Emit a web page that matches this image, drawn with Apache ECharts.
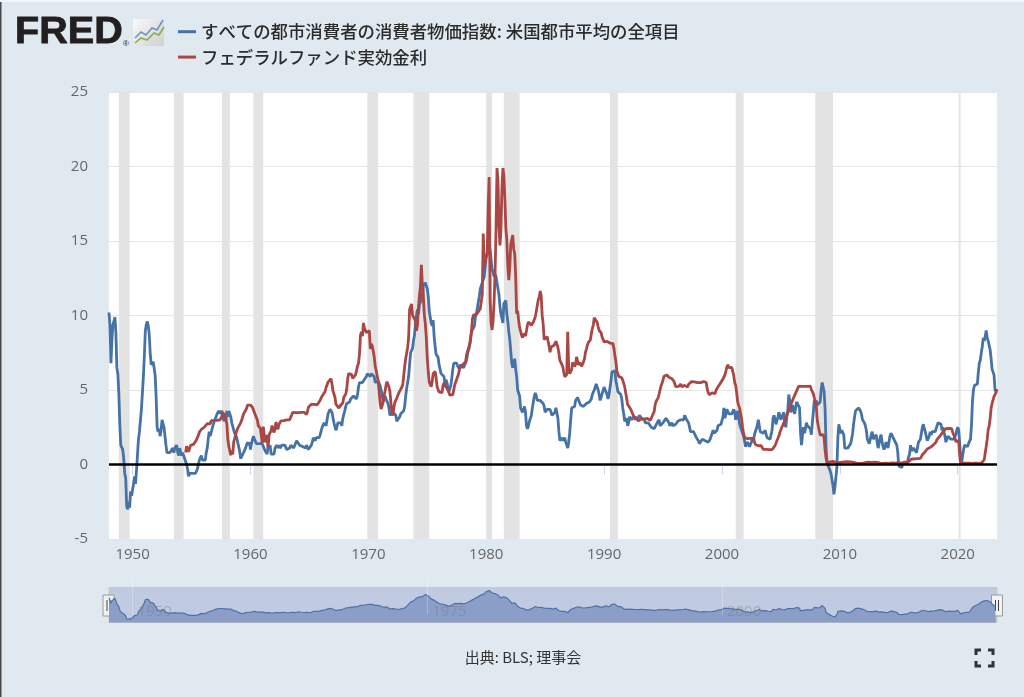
<!DOCTYPE html>
<html>
<head>
    <meta charset="utf-8">
    <title>FRED CPI / FF</title>
    <script src="https://cdn.jsdelivr.net/npm/echarts@6/dist/echarts.min.js"></script>
    <style>
        html,body{
            height: 100%;
            margin: 0;
            padding: 0;
            background: #e1e9f0;
        }
    </style>
</head>
<body>
    <div id="main" style="width: 1024px;height:697px;"></div>
    <script type="text/javascript">
    // 凡例
    var cpiName = 'すべての都市消費者の消費者物価指数: 米国都市平均の全項目';
    var ffName = 'フェデラルファンド実効金利';

    // CPI 前年比 (%), 1948年1月から月次
    var cpiStart = 1948;
    var cpiValues = [
        10.2, 9.3, 6.8, 8.4, 9.4, 9.6, 9.9, 8.9, 6.5, 6.1, 4.8, 2.7,
        1.3, 1.3, 1.0, 0.4, -0.6, -0.9, -2.8, -3.0, -2.5, -2.9, -1.8, -2.1,
        -2.1, -1.3, -0.8, -1.3, -0.4, -0.4, 1.7, 2.2, 2.2, 3.7, 3.8, 5.9,
        7.3, 9.0, 9.4, 9.6, 9.3, 8.7, 7.4, 6.7, 6.7, 6.9, 6.9, 6.0,
        4.5, 2.5, 2.2, 2.4, 1.9, 2.3, 3.0, 3.1, 2.5, 1.9, 1.3, 0.8,
        0.8, 0.8, 0.8, 0.8, 0.8, 1.1, 0.8, 1.1, 1.1, 1.3, 0.8, 0.6,
        1.1, 0.8, 0.6, 0.8, 0.8, 0.4, 0.4, 0.0, -0.3, -0.8, -0.6, -0.6,
        -0.6, -0.6, -0.6, -0.6, -0.6, -0.6, -0.3, -0.3, 0.3, 0.3, 0.6, 0.3,
        0.3, 0.3, 0.3, 0.8, 1.1, 1.7, 2.2, 1.9, 1.9, 2.4, 2.4, 2.9,
        2.9, 3.2, 3.4, 3.5, 3.6, 3.4, 3.3, 3.6, 3.2, 2.9, 3.4, 2.9,
        3.6, 3.2, 3.6, 3.6, 3.2, 2.8, 2.8, 2.3, 2.1, 2.1, 1.8, 1.8,
        1.2, 0.9, 0.4, 0.4, 0.4, 0.8, 0.8, 1.1, 1.1, 1.5, 1.3, 1.5,
        1.0, 1.4, 1.5, 1.9, 1.9, 1.8, 1.4, 1.4, 1.4, 1.4, 1.4, 1.4,
        1.4, 1.4, 1.4, 0.9, 0.9, 0.7, 1.3, 1.1, 1.3, 0.7, 0.7, 0.7,
        0.7, 1.1, 1.1, 1.3, 1.1, 1.3, 1.1, 1.1, 1.3, 1.3, 1.3, 1.3,
        1.3, 1.0, 1.0, 0.9, 1.1, 1.3, 1.3, 1.3, 1.1, 1.1, 1.1, 1.6,
        1.6, 1.6, 1.3, 1.3, 1.3, 1.2, 1.2, 1.1, 1.1, 1.3, 1.3, 1.0,
        1.0, 1.0, 1.3, 1.5, 1.8, 1.9, 1.6, 1.8, 1.8, 1.8, 1.8, 2.0,
        2.0, 2.5, 2.5, 2.8, 2.8, 2.6, 3.0, 3.4, 3.5, 3.7, 3.7, 3.5,
        3.5, 2.8, 2.8, 2.3, 2.5, 2.8, 2.8, 2.8, 2.8, 2.6, 3.1, 3.1,
        3.6, 3.9, 4.1, 4.0, 4.1, 4.2, 4.4, 4.4, 4.4, 4.6, 4.6, 4.7,
        4.4, 4.7, 5.2, 5.5, 5.5, 5.5, 5.5, 5.6, 5.7, 5.7, 5.9, 6.1,
        6.2, 6.1, 5.9, 6.1, 6.1, 6.0, 5.9, 5.5, 5.6, 5.6, 5.6, 5.6,
        5.3, 5.0, 4.7, 4.2, 4.4, 4.6, 4.4, 4.5, 4.1, 3.8, 3.3, 3.3,
        3.3, 3.5, 3.4, 3.4, 3.3, 2.9, 2.9, 3.0, 3.2, 3.4, 3.5, 3.4,
        3.6, 3.9, 4.6, 5.1, 5.5, 5.9, 5.8, 7.5, 7.4, 7.8, 8.3, 8.7,
        9.4, 10.0, 10.4, 10.1, 10.7, 10.9, 11.5, 10.9, 12.0, 12.1, 12.2, 12.3,
        11.8, 11.3, 10.3, 10.2, 9.5, 9.3, 9.7, 8.6, 7.9, 7.4, 7.4, 7.2,
        6.7, 6.4, 6.1, 6.0, 6.2, 5.9, 5.4, 5.7, 5.5, 5.4, 4.9, 4.9,
        5.3, 5.8, 6.4, 6.8, 6.7, 6.9, 6.8, 6.6, 6.6, 6.4, 6.7, 6.7,
        6.6, 6.5, 6.6, 6.5, 7.0, 7.4, 7.7, 7.9, 8.3, 8.9, 8.9, 9.0,
        9.3, 9.9, 10.1, 10.5, 10.9, 11.3, 11.8, 12.0, 12.2, 12.1, 12.6, 13.3,
        13.9, 14.2, 14.8, 14.7, 14.4, 14.4, 13.1, 12.9, 12.6, 12.8, 12.6, 12.5,
        11.8, 11.4, 10.6, 10.1, 9.8, 9.5, 10.8, 10.8, 11.0, 10.1, 9.6, 8.9,
        8.4, 7.6, 6.8, 6.5, 6.7, 7.1, 6.4, 5.9, 5.0, 5.1, 4.6, 3.8,
        3.7, 3.5, 3.6, 3.9, 3.5, 2.6, 2.4, 2.6, 2.9, 2.9, 3.3, 3.8,
        4.2, 4.6, 4.8, 4.6, 4.3, 4.2, 4.2, 4.3, 4.3, 4.3, 4.1, 3.9,
        3.5, 3.5, 3.7, 3.7, 3.7, 3.7, 3.6, 3.3, 3.2, 3.2, 3.5, 3.8,
        3.9, 3.1, 2.2, 1.6, 1.6, 1.8, 1.6, 1.6, 1.8, 1.5, 1.3, 1.1,
        1.5, 2.1, 3.0, 3.8, 3.9, 3.7, 3.9, 4.3, 4.4, 4.5, 4.5, 4.4,
        4.0, 3.9, 3.9, 3.9, 3.9, 4.0, 4.1, 4.0, 4.2, 4.2, 4.2, 4.4,
        4.7, 4.8, 5.0, 5.1, 5.4, 5.2, 5.0, 4.7, 4.3, 4.5, 4.6, 4.6,
        5.2, 5.3, 5.2, 4.7, 4.4, 4.7, 4.8, 5.6, 6.2, 6.3, 6.3, 6.3,
        5.6, 5.3, 4.9, 4.9, 4.9, 4.7, 4.4, 3.8, 3.4, 2.9, 3.0, 3.1,
        2.6, 2.8, 3.2, 3.2, 3.0, 3.1, 3.2, 3.1, 3.0, 3.2, 3.0, 2.9,
        3.3, 3.2, 3.1, 3.2, 3.2, 3.0, 2.8, 2.8, 2.7, 2.8, 2.7, 2.7,
        2.5, 2.5, 2.5, 2.4, 2.3, 2.5, 2.8, 2.9, 3.0, 2.6, 2.7, 2.7,
        2.8, 2.9, 2.9, 3.1, 3.2, 3.0, 2.8, 2.6, 2.5, 2.8, 2.6, 2.5,
        2.7, 2.7, 2.8, 2.9, 2.9, 2.8, 3.0, 2.9, 3.0, 3.0, 3.3, 3.3,
        3.0, 3.0, 2.8, 2.5, 2.2, 2.3, 2.2, 2.2, 2.2, 2.1, 1.8, 1.7,
        1.6, 1.4, 1.4, 1.4, 1.7, 1.7, 1.7, 1.6, 1.5, 1.5, 1.5, 1.6,
        1.7, 1.6, 1.7, 2.3, 2.1, 2.0, 2.1, 2.3, 2.6, 2.6, 2.6, 2.7,
        2.8, 3.2, 3.8, 3.1, 3.2, 3.7, 3.7, 3.4, 3.5, 3.4, 3.4, 3.4,
        3.7, 3.5, 3.0, 3.3, 3.6, 3.2, 2.7, 2.7, 2.6, 2.1, 1.9, 1.6,
        1.2, 1.1, 1.5, 1.6, 1.2, 1.1, 1.5, 1.8, 1.5, 2.0, 2.2, 2.4,
        2.6, 3.0, 3.0, 2.2, 2.1, 2.1, 2.1, 2.2, 2.3, 2.0, 1.8, 1.9,
        1.9, 1.7, 1.7, 2.3, 3.1, 3.3, 3.0, 2.7, 2.6, 3.2, 3.5, 3.3,
        3.0, 3.0, 3.1, 3.5, 2.8, 2.5, 3.2, 3.6, 4.7, 4.3, 3.5, 3.4,
        4.0, 3.6, 3.4, 3.5, 4.2, 4.3, 4.1, 3.8, 2.1, 1.3, 2.0, 2.5,
        2.1, 2.4, 2.8, 2.6, 2.7, 2.7, 2.4, 2.0, 2.8, 3.5, 4.3, 4.1,
        4.3, 4.0, 4.0, 3.9, 4.2, 5.0, 5.5, 5.4, 4.9, 3.7, 1.1, 0.1,
        0.0, 0.0, -0.4, -0.6, -1.0, -1.4, -2.0, -1.5, -1.4, -0.2, 1.8, 2.7,
        2.6, 2.1, 2.3, 2.2, 2.0, 1.1, 1.2, 1.1, 1.1, 1.2, 1.1, 1.4,
        1.7, 2.1, 2.7, 3.2, 3.6, 3.6, 3.6, 3.8, 3.9, 3.6, 3.4, 3.0,
        2.9, 2.8, 2.6, 2.3, 1.7, 1.7, 1.4, 1.7, 2.0, 2.2, 1.7, 1.7,
        1.6, 2.0, 1.5, 1.1, 1.4, 1.8, 2.0, 1.5, 1.2, 1.0, 1.2, 1.5,
        1.6, 1.1, 1.5, 1.9, 2.1, 2.1, 2.0, 1.7, 1.7, 1.7, 1.3, 0.8,
        -0.1, 0.0, -0.1, -0.2, 0.0, 0.1, 0.2, 0.2, 0.0, 0.2, 0.5, 0.7,
        1.3, 0.9, 0.9, 1.1, 1.0, 1.0, 0.8, 1.1, 1.5, 1.6, 1.7, 2.1,
        2.5, 2.7, 2.4, 2.2, 1.9, 1.6, 1.7, 1.9, 2.2, 2.0, 2.2, 2.1,
        2.1, 2.2, 2.4, 2.5, 2.8, 2.9, 2.9, 2.7, 2.3, 2.5, 2.2, 1.9,
        1.5, 1.5, 1.9, 2.0, 1.8, 1.7, 1.8, 1.7, 1.7, 1.8, 2.0, 2.3,
        2.5, 2.3, 1.5, 0.3, 0.1, 0.6, 1.0, 1.3, 1.4, 1.2, 1.2, 1.4,
        1.4, 1.7, 2.6, 4.2, 5.0, 5.3, 5.3, 5.2, 5.4, 6.2, 6.8, 7.0,
        7.5, 7.9, 8.5, 8.3, 8.6, 9.0, 8.5, 8.3, 8.2, 7.7, 7.1, 6.4,
        6.3, 6.0, 5.0, 4.9
    ];

    // FF 実効金利 (%), 1954年7月から月次
    var ffStart = 1954 + 6 / 12;
    var ffValues = [
        0.80, 1.22, 1.07, 0.85, 0.83, 1.28,
        1.39, 1.29, 1.35, 1.43, 1.43, 1.64, 1.68, 1.96, 2.18, 2.24, 2.35, 2.48,
        2.45, 2.50, 2.50, 2.62, 2.75, 2.71, 2.75, 2.73, 2.95, 2.96, 2.88, 2.94,
        2.84, 3.00, 2.96, 3.00, 3.00, 3.00, 2.99, 3.24, 3.47, 3.50, 3.28, 2.98,
        2.72, 1.67, 1.20, 1.26, 0.63, 0.93, 0.68, 1.53, 1.76, 1.80, 2.27, 2.42,
        2.48, 2.43, 2.80, 2.96, 2.90, 3.39, 3.47, 3.50, 3.76, 3.98, 4.00, 3.99,
        3.99, 3.97, 3.84, 3.92, 3.85, 3.32, 3.23, 2.98, 2.60, 2.47, 2.44, 1.98,
        1.45, 2.54, 2.02, 1.49, 1.98, 1.73, 1.17, 2.00, 1.88, 2.26, 2.61, 2.33,
        2.15, 2.37, 2.85, 2.78, 2.36, 2.68, 2.71, 2.93, 2.90, 2.90, 2.94, 2.93,
        2.92, 3.00, 2.98, 2.90, 3.00, 2.99, 3.02, 3.49, 3.48, 3.50, 3.48, 3.38,
        3.48, 3.48, 3.43, 3.47, 3.50, 3.50, 3.42, 3.50, 3.45, 3.36, 3.52, 3.85,
        3.90, 3.98, 4.04, 4.09, 4.10, 4.04, 4.09, 4.12, 4.01, 4.08, 4.10, 4.32,
        4.42, 4.60, 4.65, 4.67, 4.90, 5.17, 5.30, 5.53, 5.40, 5.53, 5.76, 5.40,
        4.94, 5.00, 4.53, 4.05, 3.94, 3.98, 3.79, 3.90, 3.99, 3.88, 4.13, 4.51,
        4.61, 4.71, 5.05, 5.76, 6.11, 6.07, 6.02, 6.03, 5.78, 5.91, 5.82, 6.02,
        6.30, 6.61, 6.79, 7.41, 8.67, 8.90, 8.61, 9.50, 9.15, 9.00, 8.85, 8.97,
        8.98, 8.98, 7.76, 8.10, 7.95, 7.61, 7.21, 6.61, 6.29, 6.20, 5.60, 4.90,
        4.14, 3.72, 3.71, 4.16, 4.63, 4.91, 5.31, 5.56, 5.55, 5.20, 4.91, 4.14,
        3.50, 3.29, 3.83, 4.17, 4.27, 4.46, 4.55, 4.80, 4.87, 5.04, 5.06, 5.33,
        5.94, 6.58, 7.09, 7.12, 7.84, 8.49, 10.40, 10.50, 10.78, 10.01, 10.03, 9.95,
        9.65, 8.97, 9.35, 10.51, 11.31, 11.93, 13.40, 12.01, 11.34, 10.06, 9.45, 8.53,
        7.13, 6.24, 5.54, 5.49, 5.22, 5.55, 6.10, 6.14, 6.24, 5.82, 5.22, 5.20,
        4.87, 4.77, 4.84, 4.82, 5.29, 5.48, 5.31, 5.29, 5.25, 5.02, 4.95, 4.65,
        4.61, 4.68, 4.69, 4.73, 5.35, 5.39, 5.42, 5.90, 6.14, 6.47, 6.51, 6.56,
        6.70, 6.78, 6.79, 6.89, 7.36, 7.60, 7.81, 8.04, 8.45, 8.96, 9.76, 10.03,
        10.07, 10.06, 10.09, 10.01, 10.24, 10.29, 10.47, 10.94, 11.43, 15.50, 13.18, 13.78,
        13.82, 14.13, 17.19, 19.30, 10.98, 9.47, 9.03, 9.61, 10.87, 12.81, 15.85, 19.90,
        19.08, 15.93, 14.70, 15.72, 18.52, 19.90, 19.40, 17.82, 15.87, 15.08, 13.31, 12.37,
        13.22, 14.78, 14.68, 15.40, 14.45, 14.15, 12.59, 10.12, 10.31, 9.71, 9.20, 8.95,
        8.68, 8.51, 8.77, 8.80, 8.63, 8.98, 9.37, 9.56, 9.45, 9.48, 9.34, 9.47,
        9.56, 9.59, 9.91, 10.29, 10.32, 11.06, 11.23, 11.64, 11.30, 9.99, 9.43, 8.38,
        8.35, 8.50, 8.58, 8.27, 7.97, 7.53, 7.88, 7.90, 7.92, 7.99, 8.05, 8.27,
        8.14, 7.86, 7.48, 6.99, 6.85, 6.92, 6.56, 6.17, 5.89, 5.85, 6.04, 8.90,
        6.43, 6.10, 6.13, 6.37, 6.85, 6.73, 6.58, 6.73, 7.22, 7.29, 6.69, 6.77,
        6.83, 6.58, 6.58, 6.87, 7.09, 7.51, 7.75, 8.01, 8.19, 8.30, 8.35, 8.76,
        9.12, 9.36, 9.85, 9.84, 9.81, 9.53, 9.24, 8.99, 9.02, 8.84, 8.55, 8.45,
        8.23, 8.24, 8.28, 8.26, 8.18, 8.29, 8.15, 8.13, 8.20, 8.11, 7.81, 7.31,
        6.91, 6.25, 6.12, 5.91, 5.78, 5.90, 5.82, 5.66, 5.45, 5.21, 4.81, 4.43,
        4.03, 4.06, 3.98, 3.73, 3.82, 3.76, 3.25, 3.30, 3.22, 3.10, 3.09, 2.92,
        3.02, 3.03, 3.07, 2.96, 3.00, 3.04, 3.06, 3.03, 3.09, 2.99, 3.02, 2.96,
        3.05, 3.25, 3.34, 3.56, 4.01, 4.25, 4.26, 4.47, 4.73, 4.76, 5.29, 5.45,
        5.53, 5.92, 5.98, 6.05, 6.01, 6.00, 5.85, 5.74, 5.80, 5.76, 5.80, 5.60,
        5.56, 5.22, 5.31, 5.22, 5.24, 5.27, 5.40, 5.22, 5.30, 5.24, 5.31, 5.29,
        5.25, 5.19, 5.39, 5.51, 5.50, 5.56, 5.52, 5.54, 5.54, 5.50, 5.52, 5.50,
        5.56, 5.51, 5.49, 5.45, 5.49, 5.56, 5.54, 5.55, 5.51, 5.07, 4.83, 4.68,
        4.63, 4.76, 4.81, 4.74, 4.74, 4.76, 4.99, 5.07, 5.22, 5.20, 5.42, 5.30,
        5.45, 5.73, 5.85, 6.02, 6.27, 6.53, 6.70, 6.50, 6.52, 6.51, 6.51, 6.40,
        5.98, 5.49, 5.31, 4.80, 4.21, 3.97, 3.77, 3.65, 3.07, 2.49, 2.09, 1.82,
        1.73, 1.74, 1.73, 1.75, 1.75, 1.75, 1.73, 1.74, 1.75, 1.75, 1.34, 1.24,
        1.24, 1.26, 1.25, 1.26, 1.26, 1.22, 1.01, 1.03, 1.01, 1.01, 1.00, 0.98,
        1.00, 1.01, 1.00, 1.00, 1.00, 1.03, 1.26, 1.43, 1.61, 1.76, 1.93, 2.16,
        2.28, 2.50, 2.63, 2.79, 3.00, 3.04, 3.26, 3.50, 3.62, 3.78, 4.00, 4.16,
        4.29, 4.49, 4.59, 4.79, 4.94, 4.99, 5.24, 5.25, 5.25, 5.25, 5.25, 5.24,
        5.25, 5.26, 5.26, 5.25, 5.25, 5.25, 5.26, 5.02, 4.94, 4.76, 4.49, 4.24,
        3.94, 2.98, 2.61, 2.28, 1.98, 2.00, 2.01, 2.00, 1.81, 0.97, 0.39, 0.16,
        0.15, 0.22, 0.18, 0.15, 0.18, 0.21, 0.16, 0.16, 0.15, 0.12, 0.12, 0.12,
        0.11, 0.13, 0.16, 0.20, 0.20, 0.18, 0.18, 0.19, 0.19, 0.19, 0.19, 0.18,
        0.17, 0.16, 0.14, 0.10, 0.09, 0.09, 0.07, 0.10, 0.08, 0.07, 0.08, 0.07,
        0.08, 0.10, 0.13, 0.14, 0.16, 0.16, 0.16, 0.13, 0.14, 0.16, 0.16, 0.16,
        0.14, 0.15, 0.14, 0.15, 0.11, 0.09, 0.09, 0.08, 0.08, 0.09, 0.08, 0.09,
        0.07, 0.07, 0.08, 0.09, 0.09, 0.10, 0.09, 0.09, 0.09, 0.09, 0.09, 0.12,
        0.11, 0.11, 0.11, 0.12, 0.12, 0.13, 0.13, 0.14, 0.14, 0.12, 0.12, 0.24,
        0.34, 0.38, 0.36, 0.37, 0.37, 0.38, 0.39, 0.40, 0.40, 0.40, 0.41, 0.54,
        0.65, 0.66, 0.79, 0.90, 0.91, 1.04, 1.15, 1.16, 1.15, 1.15, 1.16, 1.30,
        1.41, 1.42, 1.51, 1.69, 1.70, 1.82, 1.91, 1.91, 1.95, 2.19, 2.20, 2.27,
        2.40, 2.40, 2.41, 2.42, 2.39, 2.38, 2.40, 2.13, 2.04, 1.83, 1.55, 1.55,
        1.55, 1.58, 0.65, 0.05, 0.05, 0.08, 0.09, 0.10, 0.09, 0.09, 0.09, 0.09,
        0.09, 0.08, 0.07, 0.07, 0.06, 0.08, 0.10, 0.09, 0.08, 0.08, 0.08, 0.08,
        0.08, 0.08, 0.20, 0.33, 0.77, 1.21, 1.68, 2.33, 2.56, 3.08, 3.78, 4.10,
        4.33, 4.57, 4.65, 4.83, 5.06
    ];

    // 景気後退期 [開始年, 開始月, 終了年, 終了月]
    var recessions = [
        [1948, 11, 1949, 10],
        [1953, 7, 1954, 5],
        [1957, 8, 1958, 4],
        [1960, 4, 1961, 2],
        [1969, 12, 1970, 11],
        [1973, 11, 1975, 3],
        [1980, 1, 1980, 7],
        [1981, 7, 1982, 11],
        [1990, 7, 1991, 3],
        [2001, 3, 2001, 11],
        [2007, 12, 2009, 6],
        [2020, 2, 2020, 4]
    ];

    var xTicks = [1950, 1960, 1970, 1980, 1990, 2000, 2010, 2020];
    var navTicks = [1950, 1975, 2000];
    var xMin = 1948;
    var xMax = 2023 + 4 / 12;

    var monthly = function(start, values){
        var out = [];
        for(var i = 0; i < values.length; i++){
            out.push([start + i / 12, values[i]]);
        }
        return out;
    };
    var cpiData = monthly(cpiStart, cpiValues);
    var ffData = monthly(ffStart, ffValues);

    var recessionAreas = recessions.map(function(r){
        return [{xAxis: r[0] + (r[1] - 1) / 12}, {xAxis: r[2] + (r[3] - 1) / 12}];
    });

    var numFont = '"Open Sans", "Noto Sans", sans-serif';
    var jpFont = '"Noto Sans CJK JP", sans-serif';

    var myChart = echarts.init(document.getElementById('main'));

    var option = {
        backgroundColor: '#e1e9f0',
        animation: false,
        legend: {
            data: [cpiName, ffName],
            orient: 'vertical',
            left: 178,
            top: 23,
            padding: 0,
            itemGap: 8,
            itemWidth: 18,
            itemHeight: 3,
            icon: 'rect',
            textStyle: {
                fontSize: 17.4,
                lineHeight: 17,
                fontWeight: 500,
                color: '#2b2b2b',
                fontFamily: jpFont
            }
        },
        grid: [
            {
                left: 109, right: 27, top: 92, height: 447,
                show: true, backgroundColor: '#ffffff', borderWidth: 0
            },
            {
                left: 109, right: 27, top: 587.5, height: 35,
                show: true, backgroundColor: '#c0cbe1', borderColor: '#c8c8c8', borderWidth: 1
            }
        ],
        xAxis: [
            {
                type: 'value',
                gridIndex: 0,
                min: xMin,
                max: xMax,
                axisLine: {lineStyle: {color: '#ccd6eb', width: 1}},
                axisTick: {show: true, customValues: xTicks, length: 10, lineStyle: {color: '#ccd6eb'}},
                axisLabel: {
                    customValues: xTicks,
                    color: '#666',
                    fontSize: 15,
                    fontFamily: numFont,
                    margin: 8,
                    formatter: function(v){ return String(Math.round(v)); }
                },
                splitLine: {show: false}
            },
            {
                type: 'value',
                gridIndex: 1,
                min: xMin,
                max: xMax,
                z: 5,
                axisLine: {show: false},
                axisTick: {
                    show: true, inside: true, customValues: navTicks, length: 35,
                    lineStyle: {color: 'rgba(255,255,255,0.25)'}
                },
                axisLabel: {
                    customValues: navTicks,
                    inside: true,
                    align: 'left',
                    padding: [0, 0, 0, 5],
                    margin: 3,
                    color: 'rgba(120,120,120,0.4)',
                    fontSize: 15,
                    fontFamily: numFont,
                    formatter: function(v){ return String(Math.round(v)); }
                },
                splitLine: {show: false}
            }
        ],
        yAxis: [
            {
                type: 'value',
                gridIndex: 0,
                min: -5,
                max: 25,
                interval: 5,
                axisLine: {show: false},
                axisTick: {show: false},
                axisLabel: {color: '#666', fontSize: 15, fontFamily: numFont, margin: 21},
                splitLine: {lineStyle: {color: '#e6e6e6', width: 1}}
            },
            {
                type: 'value',
                gridIndex: 1,
                min: -5,
                max: 16.5,
                show: false,
                splitLine: {show: false}
            }
        ],
        series: [
            {
                name: cpiName,
                type: 'line',
                xAxisIndex: 0,
                yAxisIndex: 0,
                data: cpiData,
                showSymbol: false,
                symbol: 'none',
                color: '#4572a7',
                lineStyle: {color: '#4572a7', width: 2.8},
                markArea: {
                    silent: true,
                    itemStyle: {color: '#e3e3e3'},
                    data: recessionAreas
                }
            },
            {
                name: ffName,
                type: 'line',
                xAxisIndex: 0,
                yAxisIndex: 0,
                data: ffData,
                showSymbol: false,
                symbol: 'none',
                color: '#aa4643',
                lineStyle: {color: '#aa4643', width: 2.8},
                markLine: {
                    silent: true,
                    symbol: ['none', 'none'],
                    label: {show: false},
                    lineStyle: {color: '#000', width: 2.5, type: 'solid'},
                    data: [{yAxis: 0}]
                }
            },
            {
                name: 'navigator',
                type: 'line',
                xAxisIndex: 1,
                yAxisIndex: 1,
                data: cpiData,
                showSymbol: false,
                symbol: 'none',
                lineStyle: {color: '#4d71ab', width: 1.2},
                areaStyle: {color: '#8b9ec8', opacity: 1, origin: 'start'},
                silent: true
            }
        ],
        graphic: [
            // 枠
            {type: 'rect', left: 0, top: 0, shape: {width: 1.5, height: 697}, style: {fill: '#4a4a4a'}},
            {type: 'rect', left: 0, top: 0, shape: {width: 1024, height: 2}, style: {fill: '#f3f6f8'}},
            // FRED ロゴ
            {
                type: 'text', x: 15, y: 33, scaleX: 1.1,
                style: {
                    text: 'FRED', x: 0, y: 0,
                    font: 'bold 36px "Liberation Sans", Arial, sans-serif',
                    fill: '#231f20', stroke: '#231f20', lineWidth: 0.8,
                    verticalAlign: 'middle'
                }
            },
            {
                type: 'text', x: 123, y: 44,
                style: {text: '®', font: '8px "Liberation Sans", sans-serif', fill: '#231f20', verticalAlign: 'middle'}
            },
            {
                type: 'rect', shape: {x: 133, y: 19, width: 31, height: 27, r: 2},
                style: {
                    fill: new echarts.graphic.LinearGradient(0, 0, 1, 1, [
                        {offset: 0, color: '#fafafa'},
                        {offset: 1, color: '#cfcfcf'}
                    ])
                }
            },
            {
                type: 'polyline',
                shape: {points: [[135, 38], [141, 32], [146, 35], [152, 28], [157, 30], [163, 20]]},
                style: {stroke: '#6f93c4', lineWidth: 1.6, fill: null}
            },
            {
                type: 'polyline',
                shape: {points: [[135, 43], [141, 38], [147, 40], [154, 33], [159, 35], [164, 27]]},
                style: {stroke: '#7fb34a', lineWidth: 1.6, fill: null}
            },
            // ナビゲーターのハンドル
            {type: 'rect', shape: {x: 103, y: 595, width: 11, height: 21}, style: {fill: '#f2f2f2', stroke: '#999', lineWidth: 1}},
            {type: 'line', shape: {x1: 107, y1: 600, x2: 107, y2: 611}, style: {stroke: '#444', lineWidth: 1}},
            {type: 'line', shape: {x1: 110, y1: 600, x2: 110, y2: 611}, style: {stroke: '#444', lineWidth: 1}},
            {type: 'rect', shape: {x: 991.5, y: 595, width: 11, height: 21}, style: {fill: '#f2f2f2', stroke: '#999', lineWidth: 1}},
            {type: 'line', shape: {x1: 995.5, y1: 600, x2: 995.5, y2: 611}, style: {stroke: '#444', lineWidth: 1}},
            {type: 'line', shape: {x1: 998.5, y1: 600, x2: 998.5, y2: 611}, style: {stroke: '#444', lineWidth: 1}},
            // 出典
            {
                type: 'text', x: 523, y: 657,
                style: {text: '出典: BLS; 理事会', font: '15px ' + jpFont, fill: '#333', align: 'center', verticalAlign: 'middle'}
            },
            // 全画面アイコン
            {type: 'polyline', shape: {points: [[976, 655], [976, 650], [981, 650]]}, style: {stroke: '#333', lineWidth: 3, fill: null}},
            {type: 'polyline', shape: {points: [[988, 650], [993, 650], [993, 655]]}, style: {stroke: '#333', lineWidth: 3, fill: null}},
            {type: 'polyline', shape: {points: [[976, 661], [976, 666], [981, 666]]}, style: {stroke: '#333', lineWidth: 3, fill: null}},
            {type: 'polyline', shape: {points: [[988, 666], [993, 666], [993, 661]]}, style: {stroke: '#333', lineWidth: 3, fill: null}}
        ]
    };

    myChart.setOption(option);
    </script>
</body>
</html>
